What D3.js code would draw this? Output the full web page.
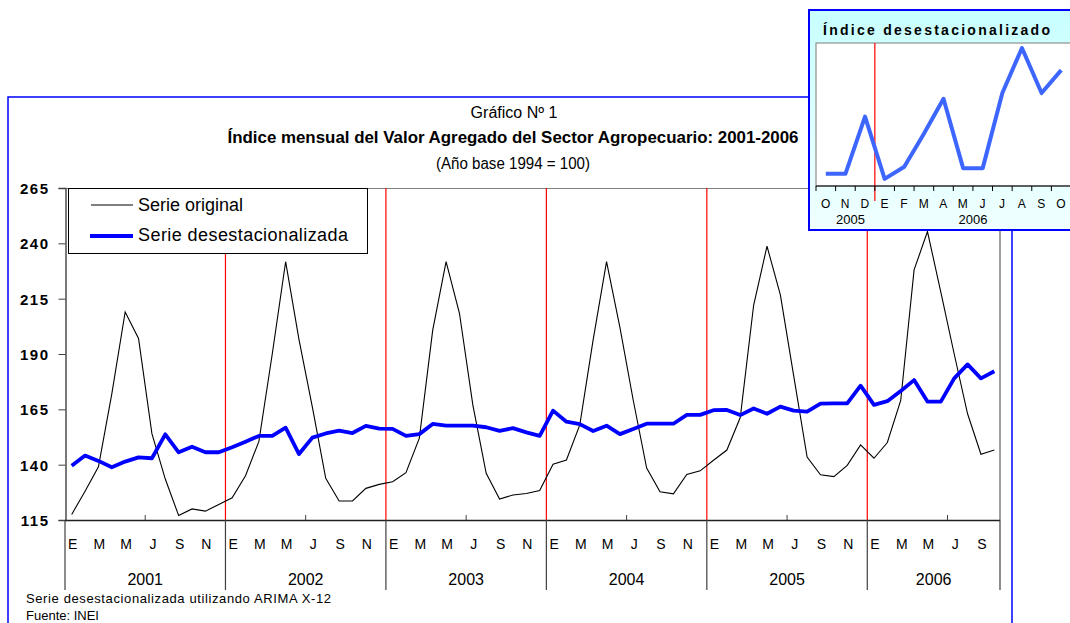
<!DOCTYPE html>
<html>
<head>
<meta charset="utf-8">
<script src="https://cdn.jsdelivr.net/npm/d3@7"></script>
<style>
  body { margin: 0; background: #fff; }
  svg { display: block; font-family: "Liberation Sans", Arial, sans-serif; }
</style>
</head>
<body>
<div id="chart"></div>
<script>
// datos (ene 2001 - oct 2006)
const monthLabels = ['E', 'F', 'M', 'A', 'M', 'J', 'J', 'A', 'S', 'O', 'N', 'D']
const years = ['2001', '2002', '2003', '2004', '2005', '2006']

const serieOriginal = [
  117.5, 128, 139, 172, 209, 197, 154, 133.5, 117, 120, 119, 122,
  125, 135, 150.5, 190, 231.7, 196.5, 166, 133.8, 123.6, 123.6, 129.3, 131.1,
  132.3, 136.4, 152, 200.8, 231.7, 208.4, 167, 136.1, 124.5, 126.3, 127, 128.3,
  140.2, 142.1, 158, 196.5, 231.7, 202, 169, 138.5, 127.8, 126.8, 135.6, 137.2,
  142, 146.6, 161.3, 212, 238.7, 216.7, 180, 143.4, 135.4, 134.6, 139.7, 148.9,
  142.9, 150, 169, 228, 245.3, 218, 190, 163, 144.7, 146.6
]

const serieDesest = [
  139.5, 144.1, 141.7, 138.8, 141.4, 143.3, 142.9, 153.7, 145.6, 148.1, 145.6, 145.6,
  147.9, 150.4, 153, 153, 156.7, 144.8, 152.2, 154.1, 155.4, 154.3, 157.5, 156.3,
  156.2, 153, 153.8, 158.4, 157.6, 157.6, 157.6, 156.9, 155.3, 156.5, 154.6, 153,
  164.4, 159.4, 158.3, 155.2, 157.6, 153.8, 156.1, 158.5, 158.5, 158.5, 162.5, 162.5,
  164.6, 164.7, 162.4, 165.4, 163, 166.2, 164.4, 164, 167.6, 167.7, 167.7, 175.7,
  167, 168.7, 173.3, 178.2, 168.5, 168.5, 179, 185.3, 179, 182.2
]

const yTicks = [115, 140, 165, 190, 215, 240, 265]

// recuadro: oct 2005 - oct 2006
const insetMonths = ['O', 'N', 'D', 'E', 'F', 'M', 'A', 'M', 'J', 'J', 'A', 'S', 'O']
const insetYears = [
  { label: '2005', first: 0, last: 2 },
  { label: '2006', first: 3, last: 12 }
]
const insetValues = serieDesest.slice(-13)

const draw = () => {
  const dimensions = {
    width: 1070,
    height: 623,
    plot: { left: 65, right: 1001, top: 188, bottom: 520 }
  }
  const p = dimensions.plot

  const svg = d3.select('#chart')
    .append('svg')
    .attr('width', dimensions.width)
    .attr('height', dimensions.height)

  // marco azul exterior
  svg.append('rect')
    .attr('x', 8).attr('y', 97)
    .attr('width', 1004).attr('height', 600)
    .attr('fill', 'none')
    .attr('stroke', '#0000ff')
    .attr('stroke-width', 1.5)

  const xScale = d3.scaleBand()
    .domain(d3.range(serieOriginal.length))
    .range([p.left, p.right])
  const bw = xScale.bandwidth()
  const xMid = i => xScale(i) + bw / 2

  const yScale = d3.scaleLinear()
    .domain([115, 265])
    .range([p.bottom, p.top])

  // borde del area de trazado
  svg.append('line')
    .attr('x1', p.left).attr('x2', p.right - 1)
    .attr('y1', p.top + 0.5).attr('y2', p.top + 0.5)
    .attr('stroke', '#808080')
  svg.append('line')
    .attr('x1', p.right - 1).attr('x2', p.right - 1)
    .attr('y1', p.top).attr('y2', p.bottom)
    .attr('stroke', '#a0a0a0')
    .attr('stroke-width', 2)

  const yearStarts = years.map((y, k) => k * 12)

  // lineas rojas de inicio de año
  svg.append('g')
    .selectAll('line')
    .data(yearStarts.slice(1))
    .join('line')
    .attr('x1', d => xScale(d)).attr('x2', d => xScale(d))
    .attr('y1', p.top).attr('y2', p.bottom)
    .attr('stroke', '#ff0000')
    .attr('stroke-width', 1.2)

  const line = d3.line()
    .x((d, i) => xMid(i))
    .y(d => yScale(d))

  svg.append('path')
    .datum(serieOriginal)
    .attr('d', line)
    .attr('fill', 'none')
    .attr('stroke', '#000')
    .attr('stroke-width', 1.1)

  svg.append('path')
    .datum(serieDesest)
    .attr('d', line)
    .attr('fill', 'none')
    .attr('stroke', '#0000ff')
    .attr('stroke-width', 3.8)
    .attr('stroke-linejoin', 'round')

  // eje Y
  const yAxis = d3.axisLeft(yScale)
    .tickValues(yTicks)
    .tickSize(7)
    .tickPadding(9)

  const yAxisGroup = svg.append('g')
    .attr('transform', `translate(${p.left + 0.5}, 0)`)
    .call(yAxis)
  yAxisGroup.select('.domain').attr('stroke', '#404040').attr('stroke-width', 1.4)
  yAxisGroup.selectAll('.tick line').attr('stroke', '#404040')
  yAxisGroup.selectAll('.tick text')
    .attr('fill', '#000')
    .style('font-size', '15px')
    .style('font-weight', 'bold')
    .style('letter-spacing', '1.5px')
    .attr('dy', '0.36em')

  // eje X
  svg.append('line')
    .attr('x1', p.left).attr('x2', p.right - 1)
    .attr('y1', p.bottom + 0.5).attr('y2', p.bottom + 0.5)
    .attr('stroke', '#202020')
    .attr('stroke-width', 1.5)

  const bounds = yearStarts.concat([serieOriginal.length])
  svg.append('g')
    .selectAll('line')
    .data(bounds)
    .join('line')
    .attr('x1', d => d === serieOriginal.length ? p.right - 1 : xScale(d))
    .attr('x2', d => d === serieOriginal.length ? p.right - 1 : xScale(d))
    .attr('y1', p.bottom).attr('y2', 590)
    .attr('stroke', '#404040')
    .attr('stroke-width', 1.2)

  svg.append('g')
    .selectAll('line')
    .data(yearStarts.map(d => d + 6))
    .join('line')
    .attr('x1', d => xScale(d)).attr('x2', d => xScale(d))
    .attr('y1', p.bottom - 5).attr('y2', p.bottom)
    .attr('stroke', '#404040')

  svg.append('g')
    .selectAll('text')
    .data(d3.range(serieOriginal.length).filter(i => i % 2 === 0))
    .join('text')
    .attr('x', d => xMid(d) + 1)
    .attr('y', 549)
    .attr('text-anchor', 'middle')
    .style('font-size', '14px')
    .text(d => monthLabels[d % 12])

  svg.append('g')
    .selectAll('text')
    .data(years)
    .join('text')
    .attr('x', (d, k) => {
      const a = xScale(k * 12)
      const b = Math.min(p.right - 1, xScale(k * 12) + 12 * bw)
      return (a + b) / 2
    })
    .attr('y', 585)
    .attr('text-anchor', 'middle')
    .style('font-size', '16px')
    .text(d => d)

  // leyenda
  const legend = svg.append('g')
  legend.append('rect')
    .attr('x', 68.5).attr('y', 188.5)
    .attr('width', 299).attr('height', 65)
    .attr('fill', '#fff')
    .attr('stroke', '#000')
  legend.append('line')
    .attr('x1', 91).attr('x2', 133).attr('y1', 205).attr('y2', 205)
    .attr('stroke', '#000').attr('stroke-width', 1.1)
  legend.append('line')
    .attr('x1', 90).attr('x2', 133).attr('y1', 236).attr('y2', 236)
    .attr('stroke', '#0000ff').attr('stroke-width', 3.8)
  legend.append('text')
    .attr('x', 138).attr('y', 211)
    .style('font-size', '18px')
    .text('Serie original')
  legend.append('text')
    .attr('x', 138).attr('y', 241)
    .style('font-size', '18px')
    .attr('textLength', 210)
    .text('Serie desestacionalizada')

  // titulos
  svg.append('text')
    .attr('x', 514).attr('y', 118)
    .attr('text-anchor', 'middle')
    .style('font-size', '16px')
    .text('Gráfico Nº 1')
  svg.append('text')
    .attr('x', 513).attr('y', 142.5)
    .attr('text-anchor', 'middle')
    .style('font-size', '17px')
    .style('font-weight', 'bold')
    .attr('textLength', 571)
    .attr('lengthAdjust', 'spacingAndGlyphs')
    .text('Índice mensual del Valor Agregado del Sector Agropecuario: 2001-2006')
  svg.append('text')
    .attr('x', 513).attr('y', 169)
    .attr('text-anchor', 'middle')
    .style('font-size', '16px')
    .attr('textLength', 154)
    .attr('lengthAdjust', 'spacingAndGlyphs')
    .text('(Año base 1994 = 100)')

  // notas
  svg.append('text')
    .attr('x', 26).attr('y', 603)
    .style('font-size', '13px')
    .attr('textLength', 305)
    .text('Serie desestacionalizada utilizando ARIMA X-12')
  svg.append('text')
    .attr('x', 26).attr('y', 620)
    .style('font-size', '13px')
    .text('Fuente: INEI')

  // ---- recuadro: indice desestacionalizado ----
  const defs = svg.append('defs')
  const grad = defs.append('linearGradient')
    .attr('id', 'insetBg')
    .attr('x1', 0).attr('y1', 0).attr('x2', 0).attr('y2', 1)
  grad.append('stop').attr('offset', '0%').attr('stop-color', '#c8ffff')
  grad.append('stop').attr('offset', '100%').attr('stop-color', '#f0ffff')

  const inset = { left: 816, right: 1071, top: 43, bottom: 186 }

  svg.append('rect')
    .attr('x', 809).attr('y', 10)
    .attr('width', 270).attr('height', 220)
    .attr('fill', 'url(#insetBg)')
    .attr('stroke', '#0000ff')
    .attr('stroke-width', 2)

  svg.append('rect')
    .attr('x', inset.left).attr('y', inset.top)
    .attr('width', inset.right - inset.left + 5).attr('height', inset.bottom - inset.top)
    .attr('fill', '#fff')
    .attr('stroke', '#909090')
    .attr('stroke-width', 1.2)

  const ix = d3.scaleBand()
    .domain(d3.range(insetValues.length))
    .range([inset.left, inset.right])
  const ibw = ix.bandwidth()

  const iy = d3.scaleLinear()
    .domain([166, 186])
    .range([inset.bottom, inset.top])

  svg.append('line')
    .attr('x1', ix(3)).attr('x2', ix(3))
    .attr('y1', inset.top).attr('y2', 201)
    .attr('stroke', '#ff0000')
    .attr('stroke-width', 1.2)

  svg.append('line')
    .attr('x1', inset.left).attr('x2', dimensions.width)
    .attr('y1', inset.bottom).attr('y2', inset.bottom)
    .attr('stroke', '#000')
    .attr('stroke-width', 1.2)

  svg.append('g')
    .selectAll('line')
    .data(d3.range(insetValues.length + 1))
    .join('line')
    .attr('x1', d => inset.left + d * ibw).attr('x2', d => inset.left + d * ibw)
    .attr('y1', inset.bottom).attr('y2', inset.bottom + 5)
    .attr('stroke', '#000')

  svg.append('path')
    .datum(insetValues)
    .attr('d', d3.line().x((d, i) => ix(i) + ibw / 2).y(d => iy(d)))
    .attr('fill', 'none')
    .attr('stroke', '#3d66ff')
    .attr('stroke-width', 4)
    .attr('stroke-linejoin', 'round')

  svg.append('g')
    .selectAll('text')
    .data(insetMonths)
    .join('text')
    .attr('x', (d, i) => ix(i) + ibw / 2)
    .attr('y', 208)
    .attr('text-anchor', 'middle')
    .style('font-size', '12px')
    .style('letter-spacing', '0.5px')
    .text(d => d)

  svg.append('g')
    .selectAll('text')
    .data(insetYears)
    .join('text')
    .attr('x', d => (ix(d.first) + ix(d.last) + ibw) / 2 + (d.first === 0 ? 5 : 0))
    .attr('y', 224)
    .attr('text-anchor', 'middle')
    .style('font-size', '13px')
    .text(d => d.label)

  svg.append('text')
    .attr('x', 823).attr('y', 35)
    .style('font-size', '14px')
    .style('font-weight', 'bold')
    .attr('textLength', 227)
    .text('Índice desestacionalizado')
}

draw()
</script>
</body>
</html>
